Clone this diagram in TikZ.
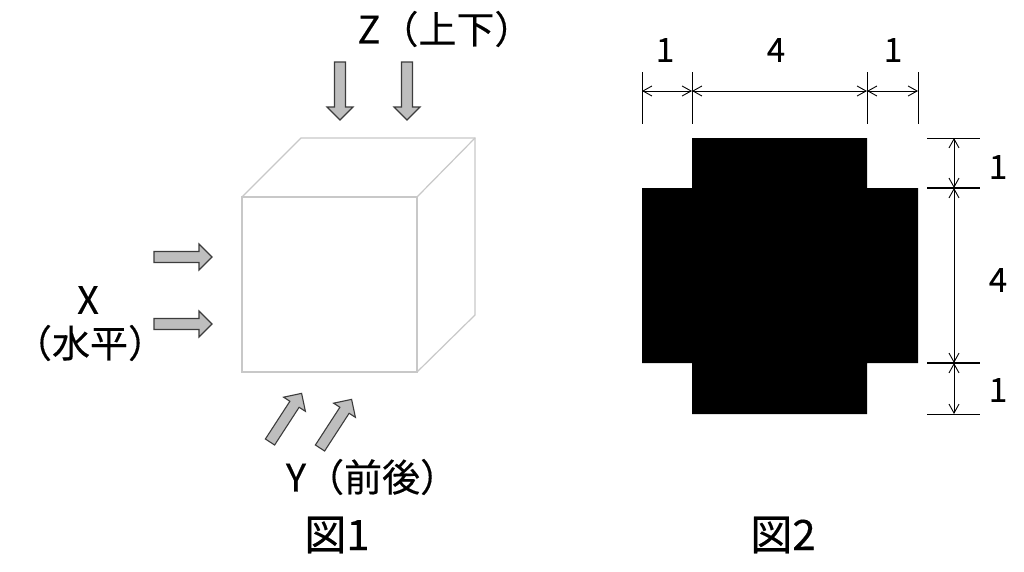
\documentclass[tikz,border=0pt]{standalone}
\usepackage{fontspec}
\setmainfont{Noto Sans CJK JP}
\newfontfamily\heavyjp[FakeBold=0.3]{Noto Sans CJK JP}
\usetikzlibrary{arrows.meta}
\definecolor{cubegray}{HTML}{C8C8C8}
\definecolor{arrowfill}{HTML}{BEBEBE}
\definecolor{arrowline}{HTML}{3C3C3C}
\begin{document}
\begin{tikzpicture}[x=1pt,y=-1pt,
  lab/.style={font=\heavyjp\fontsize{38}{42}\selectfont, inner sep=0pt},
  figlab/.style={font=\heavyjp\fontsize{42}{46}\selectfont, inner sep=0pt},
  dimnum/.style={font=\heavyjp\fontsize{33}{36}\selectfont, inner sep=0pt},
  cubeline/.style={draw=cubegray, line width=1.2pt, line join=miter},
  dimline/.style={line width=0.9pt, {Straight Barb[length=9pt,width=10pt]}-{Straight Barb[length=9pt,width=10pt]}},
  extline/.style={line width=0.9pt},
  blockarr/.pic={\draw[draw=arrowline, fill=arrowfill, line width=1.1pt, line join=miter] (0,-5.5) -- (45,-5.5) -- (45,-13) -- (58,0) -- (45,13) -- (45,5.5) -- (0,5.5) -- cycle;}
]
\useasboundingbox[fill=white] (0,0) rectangle (1024,571);

% ---- Figure 1: cube ----
\coordinate (f1) at (242,197);
\coordinate (f2) at (417,197);
\coordinate (f3) at (417,372);
\coordinate (f4) at (242,372);
\coordinate (b1) at (301,138);
\coordinate (b2) at (475,138);
\coordinate (b3) at (475,315);
\draw[cubeline] (f1) -- (f2) -- (f3) -- (f4) -- cycle;
\draw[cubeline] (f1) -- (b1) -- (b2) -- (b3) -- (f3);
\draw[cubeline] (f2) -- (b2);

% block arrows
\pic[rotate=-90] (za) at (340,62) {blockarr};
\pic[rotate=-90] (zb) at (407,62) {blockarr};
\pic (xa) at (154,257) {blockarr};
\pic (xb) at (154,324) {blockarr};
\pic[rotate=57] (ya) at (270,442) {blockarr};
\pic[rotate=57] (yb) at (320,448) {blockarr};

% labels
\node[lab] (zlab) at (445,29) {Z（上下）};
\node[lab] (xlab) at (88,300) {X};
\node[lab] (xlab2) at (90,343) {（水平）};
\node[lab] (ylab) at (372,477) {Y（前後）};
\node[figlab] (fig1) at (337,535) {図1};
\node[figlab] (fig2) at (783,535) {図2};

% ---- Figure 2: cross ----
\fill[black] (692,138) -- (867,138) -- (867,188) -- (918,188) -- (918,363) -- (867,363) -- (867,414) -- (692,414) -- (692,363) -- (642,363) -- (642,188) -- (692,188) -- cycle;

% top extension lines
\foreach \n/\xx in {t1/642,t2/692,t3/867,t4/918}{
  \coordinate (\n a) at (\xx,72);
  \coordinate (\n b) at (\xx,124);
  \coordinate (\n m) at (\xx,91);
  \draw[extline] (\n a) -- (\n b);
}
\draw[dimline] (t1m) -- (t2m);
\draw[dimline] (t2m) -- (t3m);
\draw[dimline] (t3m) -- (t4m);
\node[dimnum] (d1) at (665,50) {1};
\node[dimnum] (d2) at (776,50) {4};
\node[dimnum] (d3) at (893,50) {1};

% right extension lines
\foreach \n/\yy/\w in {r1/138/0.9,r2/188/1.6,r3/363/1.6,r4/414/0.9}{
  \coordinate (\n a) at (927,\yy);
  \coordinate (\n b) at (980,\yy);
  \coordinate (\n m) at (954,\yy);
  \draw[line width=\w pt] (\n a) -- (\n b);
}
\draw[dimline] (r1m) -- (r2m);
\draw[dimline] (r2m) -- (r3m);
\draw[dimline] (r3m) -- (r4m);
\node[dimnum] (e1) at (998,167) {1};
\node[dimnum] (e2) at (998,280) {4};
\node[dimnum] (e3) at (998,390) {1};
\end{tikzpicture}
\end{document}
